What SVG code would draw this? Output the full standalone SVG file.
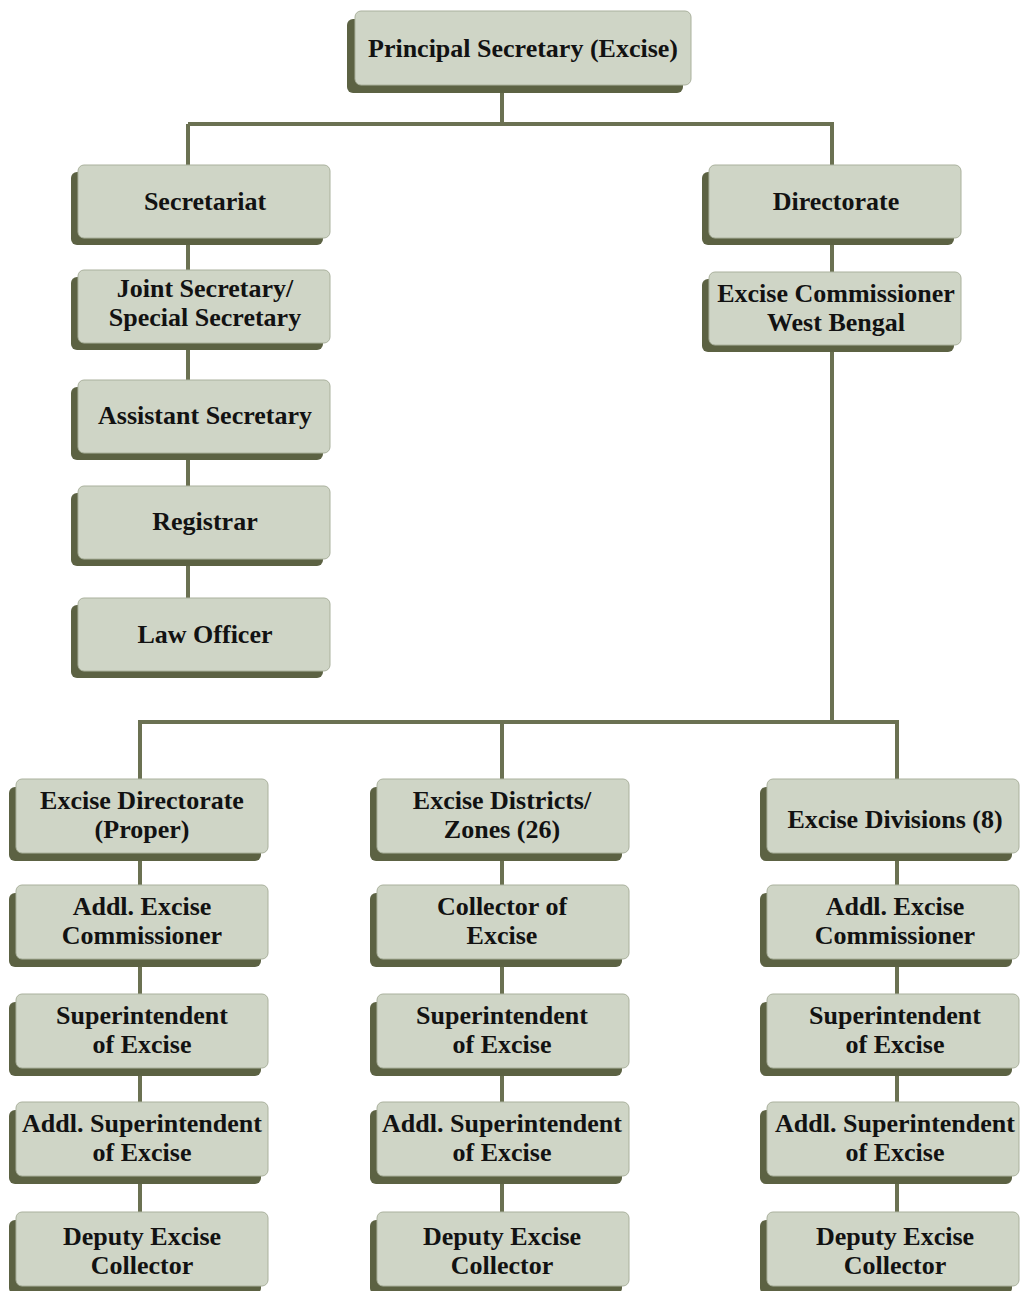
<svg xmlns="http://www.w3.org/2000/svg" width="1022" height="1291" viewBox="0 0 1022 1291">
<defs>
<style>
.sh{fill:#5c6243}
.fc{fill:#cfd5c6;stroke:#aab19d;stroke-width:1}
.t{font-family:"Liberation Serif","Times New Roman",serif;font-weight:bold;font-size:26px;fill:#121212;text-anchor:middle}
.ln{stroke:#6b7152;stroke-width:4;fill:none}
</style>
</defs>
<rect width="1022" height="1291" fill="#ffffff"/>
<g id="connectors">
<path class="ln" d="M502 85 V124 M188 124 H834 M188 124 V600 M832 124 V722 M138 722 H899 M140 722 V1240 M502 722 V1240 M897 722 V1240"/>
</g>
<g id="n-principal"><rect class="sh" x="347" y="19" width="336" height="74" rx="6"/><rect class="fc" x="355" y="11" width="336" height="74" rx="6"/><text class="t" x="523" y="57">Principal Secretary (Excise)</text></g>
<g id="n-secretariat"><rect class="sh" x="71" y="172" width="252" height="73" rx="6"/><rect class="fc" x="78" y="165" width="252" height="73" rx="6"/><text class="t" x="205" y="210">Secretariat</text></g>
<g id="n-directorate"><rect class="sh" x="702" y="172" width="252" height="73" rx="6"/><rect class="fc" x="709" y="165" width="252" height="73" rx="6"/><text class="t" x="836" y="210">Directorate</text></g>
<g id="n-joint"><rect class="sh" x="71" y="277" width="252" height="73" rx="6"/><rect class="fc" x="78" y="270" width="252" height="73" rx="6"/><text class="t" x="205" y="297">Joint Secretary/</text><text class="t" x="205" y="326">Special Secretary</text></g>
<g id="n-commissioner"><rect class="sh" x="702" y="279" width="252" height="73" rx="6"/><rect class="fc" x="709" y="272" width="252" height="73" rx="6"/><text class="t" x="836" y="302">Excise Commissioner</text><text class="t" x="836" y="331">West Bengal</text></g>
<g id="n-assistant"><rect class="sh" x="71" y="387" width="252" height="73" rx="6"/><rect class="fc" x="78" y="380" width="252" height="73" rx="6"/><text class="t" x="205" y="424">Assistant Secretary</text></g>
<g id="n-registrar"><rect class="sh" x="71" y="493" width="252" height="73" rx="6"/><rect class="fc" x="78" y="486" width="252" height="73" rx="6"/><text class="t" x="205" y="530">Registrar</text></g>
<g id="n-law"><rect class="sh" x="71" y="605" width="252" height="73" rx="6"/><rect class="fc" x="78" y="598" width="252" height="73" rx="6"/><text class="t" x="205" y="643">Law Officer</text></g>

<g id="n-l1"><rect class="sh" x="9" y="787" width="252" height="74" rx="6"/><rect class="fc" x="16" y="779" width="252" height="74" rx="6"/><text class="t" x="142" y="809">Excise Directorate</text><text class="t" x="142" y="838">(Proper)</text></g>
<g id="n-m1"><rect class="sh" x="370" y="787" width="252" height="74" rx="6"/><rect class="fc" x="377" y="779" width="252" height="74" rx="6"/><text class="t" x="502" y="809">Excise Districts/</text><text class="t" x="502" y="838">Zones (26)</text></g>
<g id="n-r1"><rect class="sh" x="760" y="787" width="252" height="74" rx="6"/><rect class="fc" x="767" y="779" width="252" height="74" rx="6"/><text class="t" x="895" y="828">Excise Divisions (8)</text></g>

<g id="n-l2"><rect class="sh" x="9" y="893" width="252" height="74" rx="6"/><rect class="fc" x="16" y="885" width="252" height="74" rx="6"/><text class="t" x="142" y="915">Addl. Excise</text><text class="t" x="142" y="944">Commissioner</text></g>
<g id="n-m2"><rect class="sh" x="370" y="893" width="252" height="74" rx="6"/><rect class="fc" x="377" y="885" width="252" height="74" rx="6"/><text class="t" x="502" y="915">Collector of</text><text class="t" x="502" y="944">Excise</text></g>
<g id="n-r2"><rect class="sh" x="760" y="893" width="252" height="74" rx="6"/><rect class="fc" x="767" y="885" width="252" height="74" rx="6"/><text class="t" x="895" y="915">Addl. Excise</text><text class="t" x="895" y="944">Commissioner</text></g>

<g id="n-l3"><rect class="sh" x="9" y="1002" width="252" height="74" rx="6"/><rect class="fc" x="16" y="994" width="252" height="74" rx="6"/><text class="t" x="142" y="1024">Superintendent</text><text class="t" x="142" y="1053">of Excise</text></g>
<g id="n-m3"><rect class="sh" x="370" y="1002" width="252" height="74" rx="6"/><rect class="fc" x="377" y="994" width="252" height="74" rx="6"/><text class="t" x="502" y="1024">Superintendent</text><text class="t" x="502" y="1053">of Excise</text></g>
<g id="n-r3"><rect class="sh" x="760" y="1002" width="252" height="74" rx="6"/><rect class="fc" x="767" y="994" width="252" height="74" rx="6"/><text class="t" x="895" y="1024">Superintendent</text><text class="t" x="895" y="1053">of Excise</text></g>

<g id="n-l4"><rect class="sh" x="9" y="1110" width="252" height="74" rx="6"/><rect class="fc" x="16" y="1102" width="252" height="74" rx="6"/><text class="t" x="142" y="1132">Addl. Superintendent</text><text class="t" x="142" y="1161">of Excise</text></g>
<g id="n-m4"><rect class="sh" x="370" y="1110" width="252" height="74" rx="6"/><rect class="fc" x="377" y="1102" width="252" height="74" rx="6"/><text class="t" x="502" y="1132">Addl. Superintendent</text><text class="t" x="502" y="1161">of Excise</text></g>
<g id="n-r4"><rect class="sh" x="760" y="1110" width="252" height="74" rx="6"/><rect class="fc" x="767" y="1102" width="252" height="74" rx="6"/><text class="t" x="895" y="1132">Addl. Superintendent</text><text class="t" x="895" y="1161">of Excise</text></g>

<g id="n-l5"><rect class="sh" x="9" y="1220" width="252" height="74" rx="6"/><rect class="fc" x="16" y="1212" width="252" height="74" rx="6"/><text class="t" x="142" y="1245">Deputy Excise</text><text class="t" x="142" y="1274">Collector</text></g>
<g id="n-m5"><rect class="sh" x="370" y="1220" width="252" height="74" rx="6"/><rect class="fc" x="377" y="1212" width="252" height="74" rx="6"/><text class="t" x="502" y="1245">Deputy Excise</text><text class="t" x="502" y="1274">Collector</text></g>
<g id="n-r5"><rect class="sh" x="760" y="1220" width="252" height="74" rx="6"/><rect class="fc" x="767" y="1212" width="252" height="74" rx="6"/><text class="t" x="895" y="1245">Deputy Excise</text><text class="t" x="895" y="1274">Collector</text></g>
</svg>
